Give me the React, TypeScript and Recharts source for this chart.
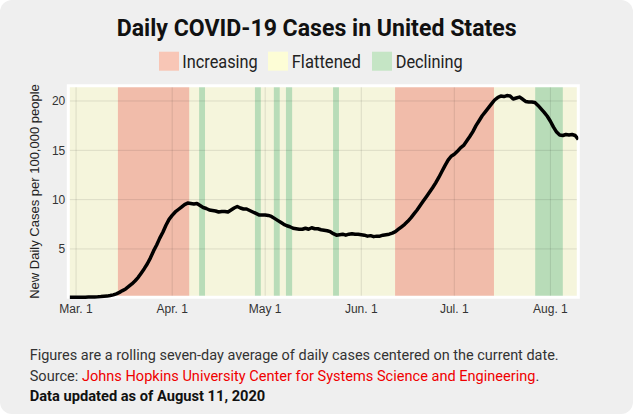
import { LineChart, Line, XAxis, YAxis, CartesianGrid, ReferenceArea } from 'recharts';

// days counted from Mar. 1, 2020
const FIRST_DAY = -2;
const dailyCases = [
  0.1, 0.1, 0.1, 0.1, 0.1, 0.1, 0.12, 0.12, 0.14, 0.15, 0.17, 0.2, 0.22,
  0.28, 0.35, 0.45, 0.6, 0.78, 0.95, 1.2, 1.45, 1.75, 2.1,
  2.55, 3.0, 3.5, 4.1, 4.8, 5.4, 6.1, 6.7, 7.4, 8.0,
  8.4, 8.75, 9.0, 9.25, 9.5, 9.65, 9.6, 9.55, 9.6, 9.4,
  9.2, 9.1, 8.95, 8.9, 8.85, 8.75, 8.8, 8.8, 8.75, 8.95,
  9.15, 9.3, 9.15, 9.05, 9.05, 8.9, 8.75, 8.6, 8.45, 8.45,
  8.45, 8.4, 8.3, 8.1, 7.9, 7.7, 7.5, 7.35, 7.25, 7.1,
  7.05, 7.0, 7.0, 7.1, 7.0, 7.15, 7.05, 7.05, 6.95, 6.9,
  6.85, 6.75, 6.55, 6.4, 6.45, 6.5, 6.4, 6.5, 6.55, 6.5,
  6.5, 6.45, 6.4, 6.3, 6.35, 6.25, 6.3, 6.3, 6.4, 6.45,
  6.5, 6.6, 6.75, 7.0, 7.25, 7.5, 7.8, 8.15, 8.55, 8.95,
  9.4, 9.85, 10.3, 10.75, 11.2, 11.7, 12.25, 12.85, 13.45, 14.0,
  14.4, 14.6, 14.9, 15.25, 15.5, 15.95, 16.4, 16.9, 17.5, 18.0,
  18.5, 18.9, 19.3, 19.7,
  20.1, 20.35, 20.5, 20.45, 20.55, 20.5, 20.2, 20.3, 20.4, 20.2,
  19.95, 19.9, 19.9, 19.85, 19.55, 19.2, 18.85, 18.45, 17.95, 17.35,
  16.85, 16.55, 16.5, 16.6, 16.55, 16.6, 16.5, 16.1,
];

const monthTicks = [0, 31, 61, 92, 122, 153];
const monthLabels = ['Mar. 1', 'Apr. 1', 'May 1', 'Jun. 1', 'Jul. 1', 'Aug. 1'];
const caseTicks = [5, 10, 15, 20];

const increasingPeriods = [
  [13.5, 36.5],
  [102.9, 134.8],
];
const decliningPeriods = [
  [39.7, 41.6],
  [57.7, 59.6],
  [63.8, 65.7],
  [67.7, 69.7],
  [82.9, 84.8],
  [148.1, 157],
];

const X_DOMAIN: [number, number] = [-2.5, 162];
const Y_DOMAIN: [number, number] = [0.1, 21.55];

const COLORS = {
  increasing: '#f1bcaa',
  flattened: '#f5f5dc',
  declining: '#b8dcb8',
};
const LEGEND_COLORS = {
  increasing: '#f8c6b6',
  flattened: '#fdfdd6',
  declining: '#c5e5c5',
};

const data = dailyCases.map((cases, i) => ({ day: FIRST_DAY + i, cases }));

const tickStyle = { fill: '#333', fontSize: 12, fontFamily: '"Liberation Sans", Arial, sans-serif' };
const textFont = 'Roboto, "Noto Sans", sans-serif';

function YAxisTitle({ viewBox }: any) {
  const x = viewBox.x + 11;
  const y = viewBox.y + viewBox.height / 2;
  return (
    <text
      x={x}
      y={y}
      transform={`rotate(-90, ${x}, ${y})`}
      textAnchor="middle"
      fill="#222"
      fontSize={13}
      fontFamily='"Liberation Sans", Arial, sans-serif'
    >
      New Daily Cases per 100,000 people
    </text>
  );
}

export default function App() {
  return (
    <div style={{ position: 'relative', width: 635, height: 416, background: '#fff' }}>
      <style>{'body{margin:0}'}</style>
      <div
        style={{
          position: 'absolute',
          left: 0,
          top: 0,
          width: 633,
          height: 414,
          background: '#efefef',
          borderRadius: 12,
        }}
      />
      <div style={{ position: 'absolute', left: 0, top: 0 }}>
        <LineChart
          width={635}
          height={416}
          data={data}
          margin={{ top: 85.7, right: 56.7, bottom: 88.7, left: 28.3 }}
        >
          <ReferenceArea x1={X_DOMAIN[0]} x2={X_DOMAIN[1]} fill={COLORS.flattened} fillOpacity={1} stroke="none" />
          {increasingPeriods.map(([a, b], i) => (
            <ReferenceArea key={`inc-${i}`} x1={a} x2={b} fill={COLORS.increasing} fillOpacity={1} stroke="none" />
          ))}
          {decliningPeriods.map(([a, b], i) => (
            <ReferenceArea key={`dec-${i}`} x1={a} x2={b} fill={COLORS.declining} fillOpacity={1} stroke="none" />
          ))}
          <CartesianGrid stroke="#000" strokeOpacity={0.1} zIndex={150} />
          <ReferenceArea
            x1={X_DOMAIN[0]}
            x2={X_DOMAIN[1]}
            y1={Y_DOMAIN[0]}
            y2={Y_DOMAIN[1]}
            fill="none"
            stroke="#fff"
            strokeWidth={3}
            zIndex={160}
          />
          <XAxis
            type="number"
            dataKey="day"
            domain={X_DOMAIN}
            ticks={monthTicks}
            tickFormatter={(v: number) => monthLabels[monthTicks.indexOf(v)] ?? ''}
            axisLine={false}
            tickLine={false}
            tickSize={0}
            tickMargin={7.5}
            height={30}
            tick={tickStyle}
            allowDataOverflow
          />
          <YAxis
            type="number"
            domain={Y_DOMAIN}
            ticks={caseTicks}
            axisLine={false}
            tickLine={false}
            tickSize={0}
            tickMargin={3}
            width={40}
            tick={tickStyle}
            label={<YAxisTitle />}
          />
          <Line
            type="linear"
            dataKey="cases"
            stroke="#000"
            strokeWidth={3.5}
            strokeLinejoin="round"
            dot={false}
            activeDot={false}
            isAnimationActive={false}
          />
        </LineChart>
      </div>
      <svg
        width={635}
        height={416}
        style={{ position: 'absolute', left: 0, top: 0, pointerEvents: 'none' }}
      >
        <text x={116.7} y={36.3} textLength={400} lengthAdjust="spacingAndGlyphs" fontFamily={textFont} fontWeight={700} fontSize={23} fill="#111">
          Daily COVID-19 Cases in United States
        </text>

        <rect x={159} y={51.7} width={20} height={19} fill={LEGEND_COLORS.increasing} />
        <text x={182.3} y={67.7} textLength={75.4} lengthAdjust="spacingAndGlyphs" fontFamily={textFont} fontSize={17.5} fill="#222">
          Increasing
        </text>
        <rect x={268} y={51.7} width={20} height={19} fill={LEGEND_COLORS.flattened} />
        <text x={291.7} y={67.7} textLength={69.3} lengthAdjust="spacingAndGlyphs" fontFamily={textFont} fontSize={17.5} fill="#222">
          Flattened
        </text>
        <rect x={372} y={51.7} width={20} height={19} fill={LEGEND_COLORS.declining} />
        <text x={395.7} y={67.7} textLength={67} lengthAdjust="spacingAndGlyphs" fontFamily={textFont} fontSize={17.5} fill="#222">
          Declining
        </text>

        <text x={29.7} y={360} textLength={529} lengthAdjust="spacingAndGlyphs" fontFamily={textFont} fontSize={15} fill="#333">
          Figures are a rolling seven-day average of daily cases centered on the current date.
        </text>
        <text x={29.7} y={381.3} textLength={509.6} lengthAdjust="spacingAndGlyphs" fontFamily={textFont} fontSize={15} fill="#333">
          Source: <tspan fill="#f00000">Johns Hopkins University Center for Systems Science and Engineering</tspan>.
        </text>
        <text x={29.7} y={401.3} textLength={235.6} lengthAdjust="spacingAndGlyphs" fontFamily={textFont} fontWeight={700} fontSize={15} fill="#111">
          Data updated as of August 11, 2020
        </text>
      </svg>
    </div>
  );
}
